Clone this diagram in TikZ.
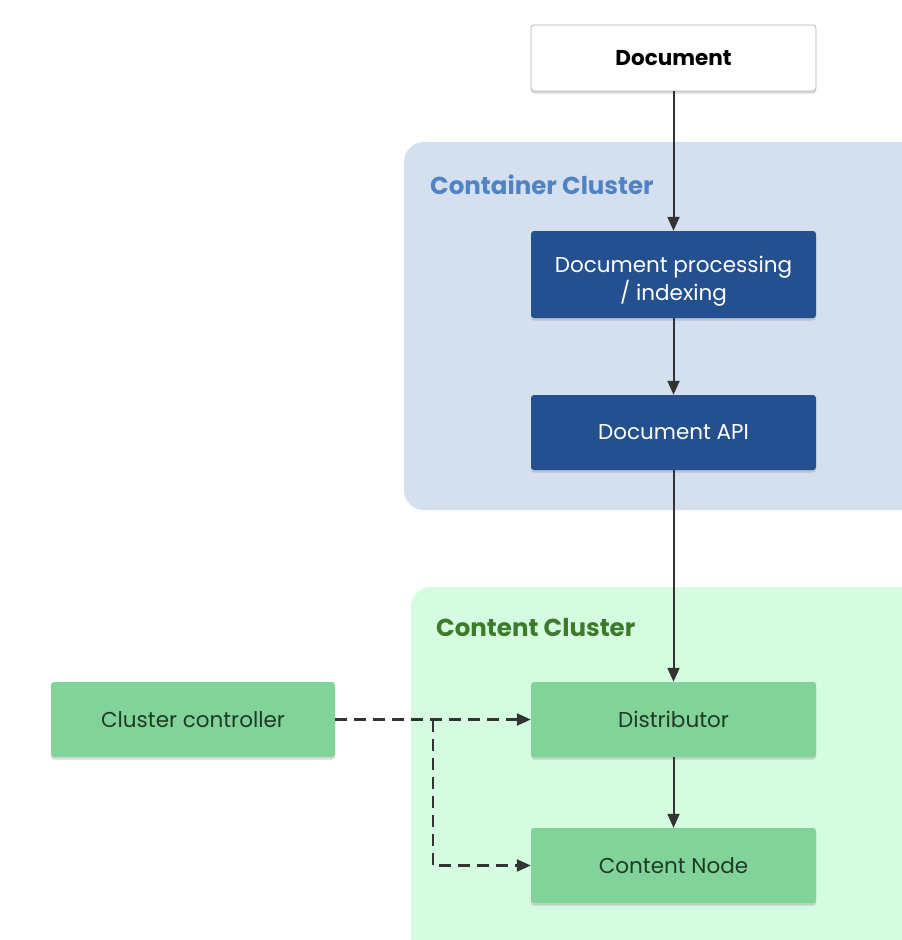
\documentclass[tikz,border=0pt]{standalone}
\usepackage{fontspec}
\setmainfont{Poppins}
\usetikzlibrary{arrows.meta,shadows}
\definecolor{contbg}{HTML}{D4E0F0}
\definecolor{contlabel}{HTML}{4F83C4}
\definecolor{darkblue}{HTML}{245090}
\definecolor{greenbg}{HTML}{D5FBE0}
\definecolor{greenbox}{HTML}{82D39A}
\definecolor{greenlabel}{HTML}{3D7A2A}
\definecolor{greentext}{HTML}{1F3A25}
\definecolor{arrowc}{HTML}{333333}
\tikzset{
  box/.style={rectangle, rounded corners=3pt, minimum width=285pt, minimum height=75pt, inner sep=0pt, align=center, font=\fontsize{21.5}{28}\selectfont,
    drop shadow={shadow xshift=0pt, shadow yshift=-2.5pt, opacity=0.3}},
  whitebox/.style={box, fill=white, draw=black!30, line width=0.8pt, minimum height=66pt, text=black, font=\fontsize{21.5}{28}\selectfont\bfseries},
  bluebox/.style={box, fill=darkblue, text=white},
  boxtext/.style={inner sep=0pt, align=center, font=\fontsize{21.5}{28}\selectfont},
  greenb/.style={box, fill=greenbox, text=greentext},
  clusterbg/.style={rounded corners=20pt},
  clusterlabel/.style={anchor=west, font=\fontsize{24.5}{28}\selectfont\bfseries, inner sep=0pt},
  flow/.style={draw=arrowc, line width=2pt, -{Triangle[length=14pt,width=12pt]}},
  ctrl/.style={draw=arrowc, line width=2.2pt, dash pattern=on 12pt off 7pt, -{Triangle[length=14pt,width=12pt]}}
}
\begin{document}
\begin{tikzpicture}[x=1pt,y=-1pt]
\useasboundingbox (0,0) rectangle (902,940);
\fill[white] (0,0) rectangle (902,940);
% clusters
\fill[contbg, clusterbg] (404,142) rectangle (940,510);
\node[clusterlabel, text=contlabel] (contlab) at (430,185) {Container Cluster};
\fill[greenbg, clusterbg] (411,587) rectangle (940,980);
\node[clusterlabel, text=greenlabel] (greenlab) at (436,628) {Content Cluster};
% nodes
\node[whitebox] (doc) at (673.5,58) {Document};
\node[bluebox, minimum height=87pt] (proc) at (673.5,274.5) {};
\node[boxtext, text=white] (proctext) at ([yshift=-7pt]proc.center) {Document processing\\/ indexing};
\node[bluebox] (api) at (673.5,432.5) {Document API};
\node[greenb] (dist) at (673.5,719.5) {Distributor};
\node[greenb] (cnode) at (673.5,865.5) {Content Node};
\node[greenb, minimum width=284pt] (ctrl) at (193,719.5) {Cluster controller};
% connectors
\draw[flow] (doc) -- (proc);
\draw[flow] (proc) -- (api);
\draw[flow] (api) -- (dist);
\draw[flow] (dist) -- (cnode);
\coordinate (branch) at (433,719.5);
\draw[ctrl] (ctrl.east) -- (dist.west);
\draw[ctrl] (branch) |- (cnode.west);
\end{tikzpicture}
\end{document}
